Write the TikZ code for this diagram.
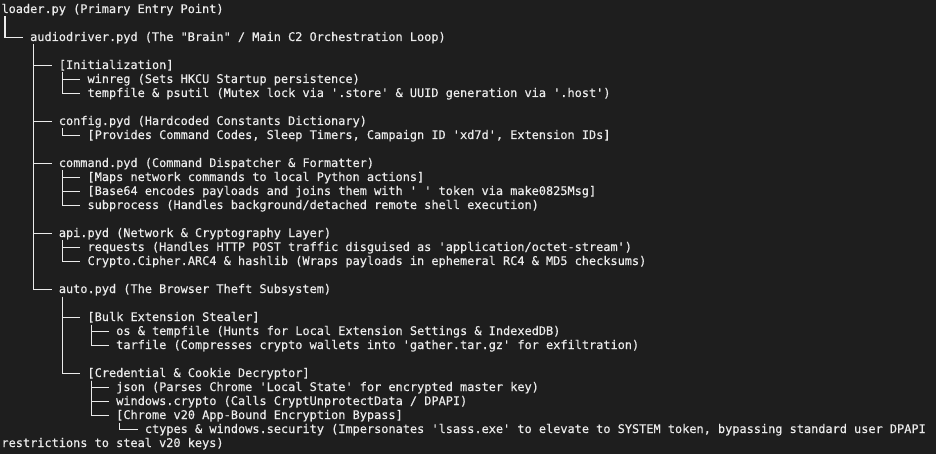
\documentclass[tikz,border=0pt]{standalone}
\usepackage{fontspec}
\setmonofont{DejaVu Sans Mono}[FakeBold=0.35]
\definecolor{bg}{HTML}{1E1E1E}
\definecolor{fg}{HTML}{EBEBEB}
\def\cw{7.17}
\def\rz{9.5}
\def\hc{3.585pt}
\def\cwd{7.17pt}
\begin{document}
\begin{tikzpicture}[x=1pt,y=1pt,
  ln/.style={anchor=west, inner sep=0pt, outer sep=0pt, text=fg,
    font=\ttfamily\fontsize{11.9}{14}\selectfont, text height=8pt, text depth=1pt},
  tree/.style={draw=fg, line width=1.2pt}]
\fill[bg] (0,0) rectangle (936,-454);
\useasboundingbox (0,0) rectangle (936,-454);
% text lines
\node[ln] (n0) at ({1.5+0*\cw},{-\rz-14*0}) {loader.py (Primary Entry Point)};
\node[ln] (n1) at ({1.5+4*\cw},{-\rz-14*2}) {audiodriver.pyd (The "Brain" / Main C2 Orchestration Loop)};
\node[ln] (init) at ({1.5+8*\cw},{-\rz-14*4}) {[Initialization]};
\node[ln] (winreg) at ({1.5+12*\cw},{-\rz-14*5}) {winreg (Sets HKCU Startup persistence)};
\node[ln] (tempf) at ({1.5+12*\cw},{-\rz-14*6}) {tempfile \& psutil (Mutex lock via '.store' \& UUID generation via '.host')};
\node[ln] (config) at ({1.5+8*\cw},{-\rz-14*8}) {config.pyd (Hardcoded Constants Dictionary)};
\node[ln] (prov) at ({1.5+12*\cw},{-\rz-14*9}) {[Provides Command Codes, Sleep Timers, Campaign ID 'xd7d', Extension IDs]};
\node[ln] (command) at ({1.5+8*\cw},{-\rz-14*11}) {command.pyd (Command Dispatcher \& Formatter)};
\node[ln] (maps) at ({1.5+12*\cw},{-\rz-14*12}) {[Maps network commands to local Python actions]};
\node[ln] (b64) at ({1.5+12*\cw},{-\rz-14*13}) {[Base64 encodes payloads and joins them with ' ' token via make0825Msg]};
\node[ln] (subp) at ({1.5+12*\cw},{-\rz-14*14}) {subprocess (Handles background/detached remote shell execution)};
\node[ln] (api) at ({1.5+8*\cw},{-\rz-14*16}) {api.pyd (Network \& Cryptography Layer)};
\node[ln] (req) at ({1.5+12*\cw},{-\rz-14*17}) {requests (Handles HTTP POST traffic disguised as 'application/octet-stream')};
\node[ln] (crypt) at ({1.5+12*\cw},{-\rz-14*18}) {Crypto.Cipher.ARC4 \& hashlib (Wraps payloads in ephemeral RC4 \& MD5 checksums)};
\node[ln] (auto) at ({1.5+8*\cw},{-\rz-14*20}) {auto.pyd (The Browser Theft Subsystem)};
\node[ln] (bulk) at ({1.5+12*\cw},{-\rz-14*22}) {[Bulk Extension Stealer]};
\node[ln] (ostemp) at ({1.5+16*\cw},{-\rz-14*23}) {os \& tempfile (Hunts for Local Extension Settings \& IndexedDB)};
\node[ln] (tarf) at ({1.5+16*\cw},{-\rz-14*24}) {tarfile (Compresses crypto wallets into 'gather.tar.gz' for exfiltration)};
\node[ln] (cred) at ({1.5+12*\cw},{-\rz-14*26}) {[Credential \& Cookie Decryptor]};
\node[ln] (json) at ({1.5+16*\cw},{-\rz-14*27}) {json (Parses Chrome 'Local State' for encrypted master key)};
\node[ln] (wcry) at ({1.5+16*\cw},{-\rz-14*28}) {windows.crypto (Calls CryptUnprotectData / DPAPI)};
\node[ln] (chrome) at ({1.5+16*\cw},{-\rz-14*29}) {[Chrome v20 App-Bound Encryption Bypass]};
\node[ln] (ctypes) at ({1.5+20*\cw},{-\rz-14*30}) {ctypes \& windows.security (Impersonates 'lsass.exe' to elevate to SYSTEM token, bypassing standard user DPAPI};
\node[ln] (wrap) at ({1.5+0*\cw},{-\rz-14*31}) {restrictions to steal v20 keys)};
% tree connectors
\foreach \p/\c in {n0/n1, n1/init, n1/config, n1/command, n1/api, n1/auto,
  init/winreg, init/tempf, config/prov, command/maps, command/b64, command/subp,
  api/req, api/crypt, auto/bulk, auto/cred, bulk/ostemp, bulk/tarf,
  cred/json, cred/wcry, cred/chrome, chrome/ctypes}
  \draw[tree] ([xshift=\hc,yshift=-7pt]\p.west) |- ([xshift=-\cwd]\c.west);
\end{tikzpicture}
\end{document}
